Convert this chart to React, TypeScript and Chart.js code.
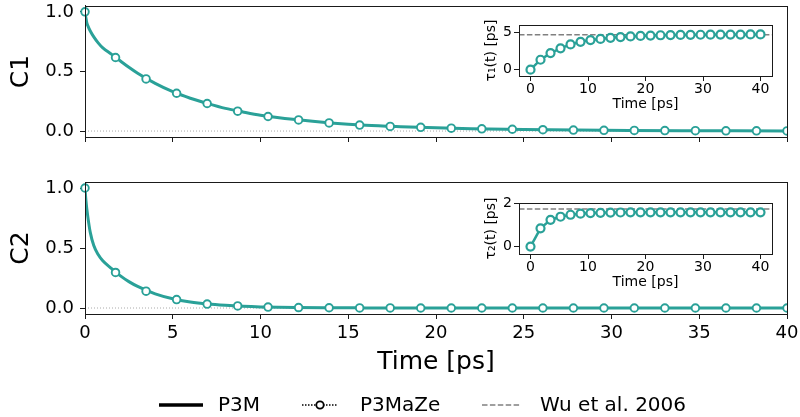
import React, { useEffect, useRef } from 'react';
import { Chart, registerables } from 'chart.js';

Chart.register(...registerables);

const TEAL = '#2aa198';
const FONT = 'DejaVu Sans';

// sampled times of the P3MaZe markers [ps]
const T_MARK = [0, 1.74, 3.48, 5.22, 6.96, 8.7, 10.43, 12.17, 13.91, 15.65, 17.39, 19.13, 20.87, 22.61, 24.35, 26.09, 27.83, 29.57, 31.3, 33.04, 34.78, 36.52, 38.26, 40.0];
const C1_MARK = [1.0, 0.617, 0.437, 0.317, 0.231, 0.167, 0.122, 0.093, 0.068, 0.05, 0.039, 0.031, 0.024, 0.019, 0.015, 0.011, 0.008, 0.006, 0.005, 0.004, 0.003, 0.002, 0.002, 0.001];
const C2_MARK = [1.0, 0.296, 0.14, 0.07, 0.033, 0.017, 0.008, 0.004, 0.002, 0.001, 0.001, 0, 0, 0, 0, 0, 0, 0, 0, 0, 0, 0, 0, 0];
const TAU1_MARK = [0, 1.35, 2.25, 2.89, 3.42, 3.78, 4.01, 4.17, 4.32, 4.42, 4.5, 4.57, 4.62, 4.66, 4.69, 4.71, 4.72, 4.73, 4.74, 4.75, 4.76, 4.76, 4.77, 4.77];
const TAU2_MARK = [0, 0.84, 1.23, 1.37, 1.46, 1.51, 1.54, 1.55, 1.56, 1.565, 1.57, 1.57, 1.57, 1.57, 1.57, 1.57, 1.57, 1.57, 1.57, 1.57, 1.57, 1.57, 1.57, 1.57];

// dense P3M curves
const T_LINE = [0, 0.05, 0.1, 0.2, 0.3, 0.5, 0.75, 1, 1.5, 2, 2.5, 3, 4, 5, 6, 7, 8, 9, 10, 12, 14, 16, 18, 20, 22, 25, 28, 31, 34, 37, 40];
const C1_LINE = [1.0, 0.95, 0.91, 0.87, 0.84, 0.79, 0.74, 0.70, 0.645, 0.59, 0.535, 0.485, 0.40, 0.33, 0.275, 0.23, 0.19, 0.16, 0.133, 0.096, 0.068, 0.048, 0.036, 0.027, 0.02, 0.013, 0.008, 0.005, 0.003, 0.002, 0.001];
const C2_LINE = [1.0, 0.9, 0.83, 0.72, 0.63, 0.52, 0.445, 0.395, 0.33, 0.27, 0.22, 0.18, 0.118, 0.077, 0.05, 0.033, 0.022, 0.014, 0.009, 0.004, 0.002, 0.001, 0, 0, 0, 0, 0, 0, 0, 0, 0];

// reference values (Wu et al. 2006)
const WU_TAU1 = 4.73;
const WU_TAU2 = 1.73;

const MAIN_X_TICKS = [0, 5, 10, 15, 20, 25, 30, 35, 40];
const MAIN_Y_TICKS = [0, 0.5, 1.0];
const INSET_X_TICKS = [0, 10, 20, 30, 40];
const INSET1_Y_TICKS = [0, 5];
const INSET2_Y_TICKS = [0, 2];

const LEGEND_LABELS = ['P3M', 'P3MaZe', 'Wu et al. 2006'];

const W = 800;
const H = 417;

const framePlugin = {
  id: 'frame',
  afterDraw(chart: any) {
    const { ctx, chartArea: a } = chart;
    const l = Math.round(a.left), t = Math.round(a.top), r = Math.round(a.right), b = Math.round(a.bottom);
    ctx.save();
    ctx.strokeStyle = '#1a1a1a';
    ctx.lineWidth = 1;
    ctx.strokeRect(l + 0.5, t + 0.5, r - l, b - t);
    ctx.restore();
  },
};

const legendPlugin = {
  id: 'figLegend',
  afterDraw(chart: any) {
    const ctx = chart.ctx;
    const y = 405;
    ctx.save();
    // P3M: solid
    ctx.strokeStyle = '#000';
    ctx.lineWidth = 3.5;
    ctx.beginPath();
    ctx.moveTo(159, y);
    ctx.lineTo(203, y);
    ctx.stroke();
    // P3MaZe: dotted with open circle
    ctx.lineWidth = 1.5;
    ctx.setLineDash([1.5, 1.5]);
    ctx.beginPath();
    ctx.moveTo(302, y);
    ctx.lineTo(338, y);
    ctx.stroke();
    ctx.setLineDash([]);
    ctx.beginPath();
    ctx.arc(320, y, 3.7, 0, Math.PI * 2);
    ctx.fillStyle = '#fff';
    ctx.fill();
    ctx.lineWidth = 1.8;
    ctx.stroke();
    // Wu: dashed gray
    ctx.strokeStyle = '#808080';
    ctx.lineWidth = 1.5;
    ctx.setLineDash([5.5, 2.4]);
    ctx.beginPath();
    ctx.moveTo(482, y);
    ctx.lineTo(520, y);
    ctx.stroke();
    ctx.setLineDash([]);
    // texts
    ctx.fillStyle = '#000';
    ctx.font = `20px "${FONT}"`;
    ctx.textBaseline = 'middle';
    ctx.textAlign = 'left';
    ctx.fillText(LEGEND_LABELS[0], 218, y + 1);
    ctx.fillText(LEGEND_LABELS[1], 360, y + 1);
    ctx.fillText(LEGEND_LABELS[2], 540, y + 1);
    ctx.restore();
  },
};

const pts = (xs: number[], ys: number[]) => xs.map((x, i) => ({ x, y: ys[i] }));

function mainConfig(markVals: number[], lineVals: number[], yTitle: string, top: number, bottom: number, showXLabels: boolean, extraPlugins: any[]) {
  const xH = showXLabels ? 70 : 10;
  return {
    type: 'line',
    data: {
      datasets: [
        {
          label: 'P3MaZe',
          data: pts(T_MARK, markVals),
          showLine: false,
          borderColor: TEAL,
          borderWidth: 1.5,
          pointRadius: 3.8,
          pointBorderWidth: 1.9,
          pointBackgroundColor: '#fff',
          pointBorderColor: TEAL,
          order: 0,
          clip: { left: 10, top: 10, right: 0, bottom: 10 },
        },
        {
          label: 'P3M',
          data: pts(T_LINE, lineVals),
          borderColor: TEAL,
          borderWidth: 3,
          pointRadius: 0,
          cubicInterpolationMode: 'monotone',
          order: 1,
        },
        {
          label: 'zero',
          data: [{ x: 0, y: 0 }, { x: 40, y: 0 }],
          borderColor: '#aaaaaa',
          borderWidth: 1,
          borderDash: [1, 2],
          pointRadius: 0,
          order: 2,
        },
      ],
    },
    options: {
      responsive: false,
      animation: false,
      events: [],
      layout: { padding: { left: 0, right: W - 787, top, bottom: H - bottom - xH } },
      plugins: { legend: { display: false }, tooltip: { enabled: false } },
      scales: {
        x: {
          type: 'linear',
          min: 0,
          max: 40,
          afterBuildTicks: (s: any) => { s.ticks = MAIN_X_TICKS.map((v) => ({ value: v })); },
          afterFit: (s: any) => { s.height = xH; s.paddingLeft = 0; s.paddingRight = 0; },
          ticks: {
            display: true,
            autoSkip: false,
            maxRotation: 0,
            padding: 4,
            color: '#000',
            font: { family: FONT, size: 18 },
            callback: (v: any) => (showXLabels ? String(v) : ''),
          },
          grid: { drawOnChartArea: false, drawTicks: true, tickLength: 5, color: '#1a1a1a', tickWidth: 1 },
          border: { display: true, color: '#1a1a1a', width: 1 },
          title: {
            display: showXLabels,
            text: 'Time [ps]',
            color: '#000',
            font: { family: FONT, size: 25 },
            padding: { top: 0, bottom: 7 },
          },
        },
        y: {
          type: 'linear',
          min: -0.05,
          max: 1.05,
          afterBuildTicks: (s: any) => { s.ticks = MAIN_Y_TICKS.map((v) => ({ value: v })); },
          afterFit: (s: any) => { s.width = 85; s.paddingTop = 0; s.paddingBottom = 0; },
          ticks: {
            padding: 6,
            color: '#000',
            font: { family: FONT, size: 18 },
            callback: (v: any) => Number(v).toFixed(1),
          },
          grid: { drawOnChartArea: false, drawTicks: true, tickLength: 5, color: '#1a1a1a', tickWidth: 1 },
          border: { display: true, color: '#1a1a1a', width: 1 },
          title: {
            display: true,
            text: yTitle,
            color: '#000',
            font: { family: FONT, size: 25 },
            padding: { top: 6.5, bottom: 0 },
          },
        },
      },
    },
    plugins: [framePlugin, ...extraPlugins],
  };
}

function insetConfig(vals: number[], wu: number, yTicks: number[], yMin: number, yMax: number, yTitle: string, top: number, bottom: number) {
  const xH = 40;
  return {
    type: 'line',
    data: {
      datasets: [
        {
          label: 'P3MaZe',
          data: pts(T_MARK, vals),
          borderColor: TEAL,
          borderWidth: 2.5,
          pointRadius: 4,
          pointBorderWidth: 2.2,
          pointBackgroundColor: '#fff',
          pointBorderColor: TEAL,
          order: 0,
        },
        {
          label: 'Wu et al. 2006',
          data: [{ x: -2, y: wu }, { x: 42, y: wu }],
          borderColor: '#808080',
          borderWidth: 1.5,
          borderDash: [5.5, 2.4],
          pointRadius: 0,
          order: 1,
        },
      ],
    },
    options: {
      responsive: false,
      animation: false,
      events: [],
      layout: { padding: { left: 519 - 40, right: W - 772, top, bottom: H - bottom - xH } },
      plugins: { legend: { display: false }, tooltip: { enabled: false } },
      scales: {
        x: {
          type: 'linear',
          min: -2,
          max: 42,
          afterBuildTicks: (s: any) => { s.ticks = INSET_X_TICKS.map((v) => ({ value: v })); },
          afterFit: (s: any) => { s.height = xH; s.paddingLeft = 0; s.paddingRight = 0; },
          ticks: {
            autoSkip: false,
            maxRotation: 0,
            padding: 0,
            color: '#000',
            font: { family: FONT, size: 14 },
            callback: (v: any) => String(v),
          },
          grid: { drawOnChartArea: false, drawTicks: true, tickLength: 5, color: '#1a1a1a', tickWidth: 1 },
          border: { display: true, color: '#1a1a1a', width: 1 },
          title: {
            display: true,
            text: 'Time [ps]',
            color: '#000',
            font: { family: FONT, size: 14 },
            padding: { top: 0, bottom: 3 },
          },
        },
        y: {
          type: 'linear',
          min: yMin,
          max: yMax,
          afterBuildTicks: (s: any) => { s.ticks = yTicks.map((v) => ({ value: v })); },
          afterFit: (s: any) => { s.width = 40; s.paddingTop = 0; s.paddingBottom = 0; },
          ticks: {
            padding: 2,
            color: '#000',
            font: { family: FONT, size: 14 },
            callback: (v: any) => String(v),
          },
          grid: { drawOnChartArea: false, drawTicks: true, tickLength: 5, color: '#1a1a1a', tickWidth: 1 },
          border: { display: true, color: '#1a1a1a', width: 1 },
          title: {
            display: true,
            text: yTitle,
            color: '#000',
            font: { family: FONT, size: 14 },
            padding: { top: 3.6, bottom: 0 },
          },
        },
      },
    },
    plugins: [framePlugin],
  };
}

function ChartCanvas({ config }: { config: () => any }) {
  const ref = useRef<HTMLCanvasElement | null>(null);
  useEffect(() => {
    if (!ref.current) return;
    const chart = new Chart(ref.current, config());
    return () => chart.destroy();
  }, []);
  return (
    <canvas
      ref={ref}
      width={W}
      height={H}
      style={{ position: 'absolute', left: 0, top: 0, width: W, height: H, pointerEvents: 'none' }}
    />
  );
}

export default function App() {
  return (
    <div style={{ position: 'fixed', left: 0, top: 0, width: W, height: H, background: '#fff', overflow: 'hidden' }}>
      <ChartCanvas config={() => mainConfig(C1_MARK, C1_LINE, 'C1', 5, 137, false, [])} />
      <ChartCanvas config={() => mainConfig(C2_MARK, C2_LINE, 'C2', 182, 314, true, [legendPlugin])} />
      <ChartCanvas config={() => insetConfig(TAU1_MARK, WU_TAU1, INSET1_Y_TICKS, -0.85, 6.05, 'τ₁(t) [ps]', 25, 76)} />
      <ChartCanvas config={() => insetConfig(TAU2_MARK, WU_TAU2, INSET2_Y_TICKS, -0.34, 2.0, 'τ₂(t) [ps]', 203, 254)} />
    </div>
  );
}
